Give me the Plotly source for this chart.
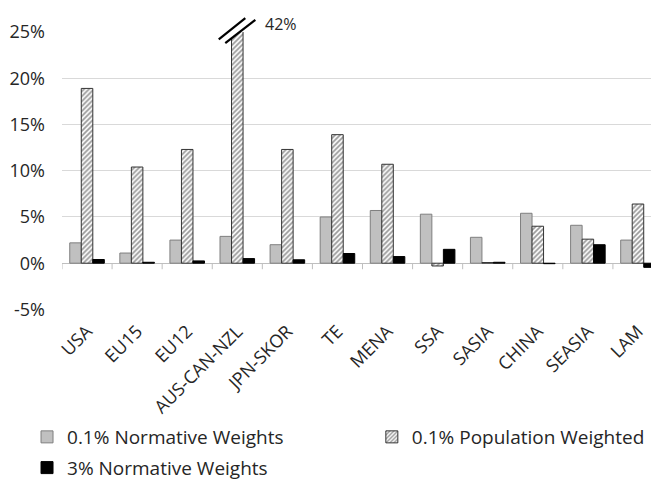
import plotly.graph_objects as go

categories = ["USA", "EU15", "EU12", "AUS-CAN-NZL", "JPN-SKOR", "TE", "MENA",
              "SSA", "SASIA", "CHINA", "SEASIA", "LAM"]
norm_01 = [2.2, 1.1, 2.5, 2.9, 2.0, 5.0, 5.7, 5.3, 2.8, 5.4, 4.1, 2.5]
pop_01 = [18.9, 10.4, 12.3, 42.0, 12.3, 13.9, 10.7, -0.3, 0.07, 4.0, 2.6, 6.4]
norm_3 = [0.4, 0.1, 0.25, 0.5, 0.37, 1.05, 0.72, 1.5, 0.1, -0.05, 2.0, -0.45]
series_names = ["0.1% Normative Weights", "0.1% Population Weighted", "3% Normative Weights"]
y_ticks = [-5, 0, 5, 10, 15, 20, 25]
y_tick_labels = ["-5%", "0%", "5%", "10%", "15%", "20%", "25%"]
break_label = "42%"

FONT = "Open Sans"
TXT = "#262626"
Y_MIN, Y_MAX = -5, 25
X_MIN, X_MAX = -0.5, 11.42

fig = go.Figure()
fig.add_trace(go.Bar(x=categories, y=norm_01, name=series_names[0], legend="legend",
                     marker=dict(color="#c0c0c0", line=dict(color="#7f7f7f", width=1))))
fig.add_trace(go.Bar(x=categories, y=pop_01, name=series_names[1], legend="legend2",
                     marker=dict(color="white", line=dict(color="#333333", width=1),
                                 pattern=dict(shape="/", fgcolor="#333333", bgcolor="white",
                                              size=3.5, solidity=0.5))))
fig.add_trace(go.Bar(x=categories, y=norm_3, name=series_names[2], legend="legend3",
                     marker=dict(color="black", line=dict(color="black", width=1))))


def px(xd):
    return (xd - X_MIN) / (X_MAX - X_MIN)


def py(yd):
    return (yd - Y_MIN) / (Y_MAX - Y_MIN)


shapes = []
# category boundary tick marks hanging below the zero line
for i in range(len(categories) + 1):
    xb = i - 0.5
    if xb < X_MIN or xb > X_MAX:
        continue
    shapes.append(dict(type="line", xref="x", yref="y", x0=xb, x1=xb, y0=0, y1=-0.65,
                       line=dict(color="#bfbfbf", width=1)))

# axis-break mark on the AUS-CAN-NZL bar
bi = categories.index("AUS-CAN-NZL")
l1 = [(bi - 0.37, 24.2), (bi + 0.16, 26.5)]
l2 = [(bi - 0.24, 23.8), (bi + 0.36, 26.3)]
poly = "M {} {} L {} {} L {} {} L {} {} Z".format(
    px(l1[0][0]), py(l1[0][1]), px(l1[1][0]), py(l1[1][1]),
    px(l2[1][0]), py(l2[1][1]), px(l2[0][0]), py(l2[0][1]))
shapes.append(dict(type="path", xref="paper", yref="paper", path=poly,
                   fillcolor="white", line=dict(width=0)))
for (a, b) in (l1, l2):
    shapes.append(dict(type="line", xref="paper", yref="paper",
                       x0=px(a[0]), y0=py(a[1]), x1=px(b[0]), y1=py(b[1]),
                       line=dict(color="black", width=2.2)))

legend_font = dict(family=FONT, size=19, color=TXT)
leg_common = dict(orientation="v", xanchor="left", yanchor="middle", yref="container",
                  font=legend_font, bgcolor="rgba(0,0,0,0)")

# the page adds an 8px body margin, so the figure is 8px smaller on each axis
fig.update_layout(
    width=651, height=473,
    margin=dict(l=54, r=0, t=24, b=170),
    paper_bgcolor="white", plot_bgcolor="white",
    barmode="group", bargap=0.31, bargroupgap=0,
    font=dict(family=FONT, size=17, color=TXT),
    showlegend=True,
    shapes=shapes,
    annotations=[dict(xref="paper", yref="paper", x=px(bi + 0.52), y=py(25.9),
                      xanchor="left", yanchor="middle", text=break_label,
                      showarrow=False, font=dict(family=FONT, size=16, color=TXT))],
    legend=dict(x=-0.0586, y=0.093, **leg_common),
    legend2=dict(x=0.519, y=0.093, **leg_common),
    legend3=dict(x=-0.0586, y=0.028, **leg_common),
    xaxis=dict(range=[X_MIN, X_MAX], tickangle=-45, showgrid=False, showline=False,
               ticks="", ticklabelstandoff=7, tickfont=dict(family=FONT, size=18, color=TXT)),
    yaxis=dict(range=[Y_MIN, Y_MAX], tickvals=y_ticks, ticktext=y_tick_labels,
               showgrid=True, gridcolor="#d9d9d9", gridwidth=1,
               zeroline=True, zerolinecolor="#bfbfbf", zerolinewidth=1,
               showline=False, ticks="", ticklabelstandoff=16,
               tickfont=dict(family=FONT, size=18, color=TXT)),
)

fig.write_html("out.html")
